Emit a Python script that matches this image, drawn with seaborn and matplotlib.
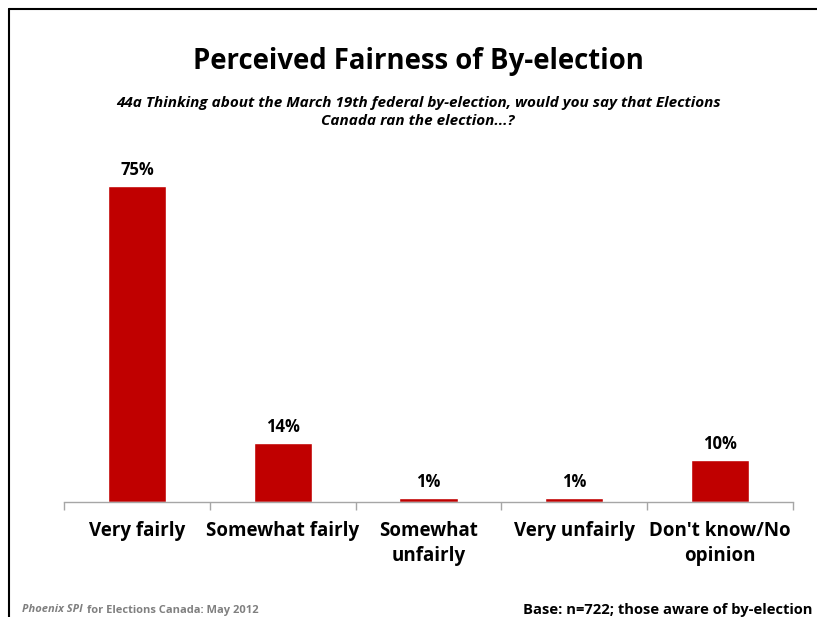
import matplotlib
matplotlib.use("Agg")
import matplotlib.pyplot as plt
import seaborn as sns
import pandas as pd

categories = ["Very fairly", "Somewhat fairly", "Somewhat\nunfairly", "Very unfairly", "Don't know/No\nopinion"]
values = [75, 14, 1, 1, 10]
value_labels = ["75%", "14%", "1%", "1%", "10%"]

sns.set_theme(style="white")
plt.rcParams["font.family"] = ["Open Sans", "DejaVu Sans"]
plt.rcParams["text.color"] = "black"
plt.rcParams["xtick.color"] = "black"

df = pd.DataFrame({"category": categories, "value": values})

W, H = 817, 617
fig = plt.figure(figsize=(W / 100, H / 100), dpi=100)
fig.patch.set_facecolor("white")

ax = fig.add_axes([64 / W, (H - 502) / H, (793 - 64) / W, 337 / H])
sns.barplot(data=df, x="category", y="value", color="#C00000", saturation=1,
            width=0.4, ax=ax)
ax.set_ylim(0, 80)
ax.set_xlim(-0.5, len(categories) - 0.5)
ax.set_yticks([])
ax.set_xlabel("")
ax.set_ylabel("")
for s in ["top", "right", "left"]:
    ax.spines[s].set_visible(False)
ax.spines["bottom"].set_color("#A6A6A6")
ax.spines["bottom"].set_linewidth(1.0)

# category boundary ticks
ax.set_xticks([i - 0.5 for i in range(len(categories) + 1)], minor=True)
ax.tick_params(axis="x", which="minor", bottom=True, length=6, color="#A6A6A6", width=1)
ax.tick_params(axis="x", which="major", bottom=False, pad=8)
ax.set_xticks(range(len(categories)))
ax.set_xticklabels(categories, fontsize=13.5, fontweight="bold", color="black",
                   linespacing=1.3)

for i, (v, lab) in enumerate(zip(values, value_labels)):
    ax.annotate(lab, (i, v), xytext=(0, 5), textcoords="offset points",
                ha="center", va="bottom", fontsize=12, fontweight="bold", color="black")

fig.text(418 / W, 1 - 61 / H, "Perceived Fairness of By-election", ha="center",
         va="center", fontsize=19.8, fontweight="bold", color="black")
fig.text(418 / W, 1 - 112 / H,
         "44a Thinking about the March 19th federal by-election, would you say that Elections\nCanada ran the election...?",
         ha="center", va="center", fontsize=11, fontweight="bold", style="italic",
         linespacing=1.3, color="black")

fig.text(22 / W, 1 - 610 / H, "Phoenix SPI", ha="left", va="center", fontsize=8,
         fontweight="bold", style="italic", color="#808080")
fig.text(87 / W, 1 - 610 / H, "for Elections Canada: May 2012", ha="left", va="center",
         fontsize=8, fontweight="bold", color="#808080")
fig.text(523 / W, 1 - 610 / H, "Base: n=722; those aware of by-election", ha="left",
         va="center", fontsize=10.6, fontweight="bold", color="black")

# slide frame
fig.add_artist(plt.Line2D([8.5 / W, 8.5 / W], [0, 1 - 8.5 / H], transform=fig.transFigure,
                          color="black", lw=1.5))
fig.add_artist(plt.Line2D([8.5 / W, 1], [1 - 8.5 / H, 1 - 8.5 / H], transform=fig.transFigure,
                          color="black", lw=1.5))

fig.savefig("out.png", dpi=100)
